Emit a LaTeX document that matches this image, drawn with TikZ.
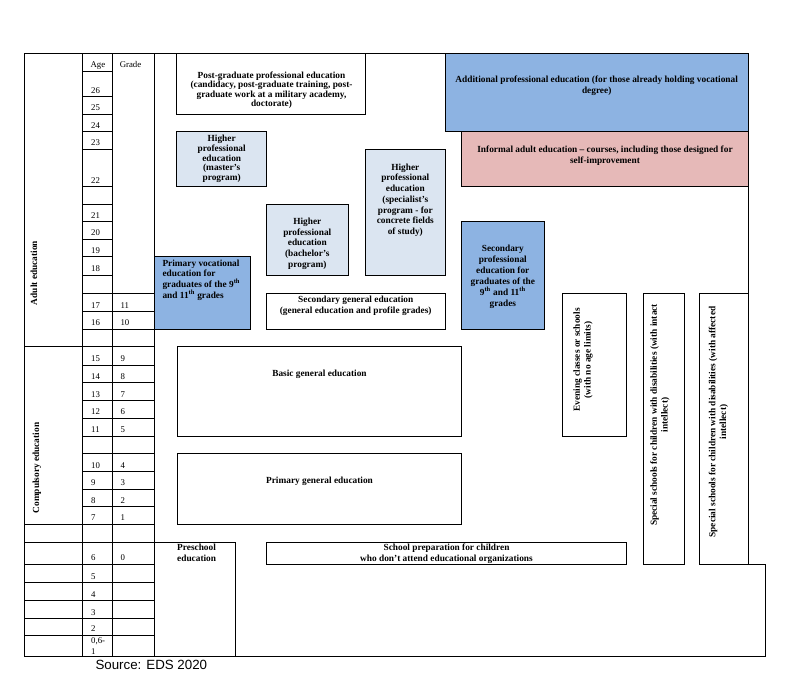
\documentclass[tikz,border=0pt]{standalone}
\usepackage{fontspec}
\setmainfont{Liberation Serif}
\newfontfamily\sourcefont{Liberation Sans}
\definecolor{eduBlue}{HTML}{8DB3E2}
\definecolor{eduPale}{HTML}{DBE5F1}
\definecolor{eduPink}{HTML}{E6B9B8}

\begin{document}
\begin{tikzpicture}[x=1pt,y=-1pt,line width=1pt,
  levelbox/.style={draw=black,line width=1pt},
  boxlabel/.style={anchor=north,align=center,inner sep=0pt,
    font=\bfseries\fontsize{9.33}{10.7}\selectfont},
  cellnum/.style={anchor=base west,inner sep=0pt,font=\fontsize{8.8}{10.9}\selectfont},
  sidelabel/.style={rotate=90,align=center,inner sep=0pt,
    font=\bfseries\fontsize{9.33}{10.7}\selectfont}]
  \fill[white] (0,0) rectangle (792,688);
  \path[use as bounding box] (0,0) rectangle (792,688);

  % Coloured levels go first, the grid lines are drawn over their edges.
  \draw[levelbox,fill=eduBlue] (445,53.3) rectangle (748.3,131.7);
  \draw[levelbox,fill=eduPink] (461.7,131.7) rectangle (748.3,186.7);
  \draw[levelbox] (176.7,53.3) rectangle (365,114);
  \draw[levelbox,fill=eduPale] (176.7,131.7) rectangle (266.7,186.7);
  \draw[levelbox,fill=eduPale] (266,204) rectangle (348.7,275);
  \draw[levelbox,fill=eduPale] (365.3,149.3) rectangle (445.3,275);
  \draw[levelbox,fill=eduBlue] (154.3,256.7) rectangle (250.7,329.3);
  \draw[levelbox,fill=eduBlue] (461.3,221.7) rectangle (544.3,329.3);
  \draw[levelbox] (266,293.3) rectangle (445.3,329.3);
  \draw[levelbox] (177.3,346.7) rectangle (461.7,436);
  \draw[levelbox] (177.3,453.3) rectangle (461.7,524);
  \draw[levelbox] (562.3,293.3) rectangle (626.7,436);
  \draw[levelbox] (643,293.3) rectangle (684.7,564.3);
  \draw[levelbox] (699.3,293.3) rectangle (748.3,564.3);
  \draw[levelbox] (154.3,542.3) rectangle (235.7,656.7);
  \draw[levelbox] (266,542.3) rectangle (626.7,564.3);

  % Age / grade table on the left
  \draw (24,53.3) -- (748.3,53.3) -- (748.3,564.3) -- (765.7,564.3)
    -- (765.7,656.7) -- (24,656.7) -- cycle;
  \foreach \x in {82.7,112.7,154.3} {\draw (\x,53.3) -- (\x,656.7);}
  \foreach \y in {71.7,96.7,114,131.7,149.3,186.7,204,221.7,239.3,256.7,275}
    {\draw (82.7,\y) -- (112.7,\y);}
  \foreach \y in {293.3,311.7,329.3,365,382.7,400.7,418.3,436,453.3,471.7,489.3,506.7}
    {\draw (82.7,\y) -- (154.3,\y);}
  \foreach \y in {346.7,524,542.3,564.3,582.7,600.7,618.7,635.3}
    {\draw (24,\y) -- (154.3,\y);}

  \node[cellnum] (agehead) at (90,67.5) {Age};
  \node[cellnum] (gradehead) at (119.3,67.5) {Grade};
  \foreach \y/\age in {96.7/26,114/25,131.7/24,149.3/23,186.7/22,221.7/21,239.3/20,
    256.7/19,275/18,311.7/17,329.3/16,365/15,382.7/14,400.7/13,418.3/12,436/11,
    471.7/10,489.3/9,506.7/8,524/7,564.3/6,582.7/5,600.7/4,618.7/3,635.3/2}
    {\node[cellnum] (age\age) at (90.7,\y-3.5) {\age};}
  \node[cellnum,anchor=north west,align=left] (ageinfant) at (90.7,637.6) {0,6-\\1};
  \foreach \y/\grade in {311.7/11,329.3/10,365/9,382.7/8,400.7/7,418.3/6,436/5,
    471.7/4,489.3/3,506.7/2,524/1,564.3/0}
    {\node[cellnum] (grade\grade) at (120,\y-3.5) {\grade};}

  \node[sidelabel] (adult) at (34,273) {Adult education};
  \node[sidelabel] (compulsory) at (37,468) {Compulsory education};

  % Level labels
  \node[boxlabel,font=\bfseries\fontsize{9.33}{9.2}\selectfont] (postgrad) at (271.5,71.6)
    {Post-graduate professional education\\(candidacy, post-graduate training, post-\\
     graduate work at a military academy,\\doctorate)};
  \node[boxlabel] (additional) at (596.7,75.9)
    {Additional professional education (for those already holding vocational\\degree)};
  \node[boxlabel] (informal) at (605,145.9)
    {Informal adult education – courses, including those designed for\\self-improvement};
  \node[boxlabel,font=\bfseries\fontsize{9.33}{9.6}\selectfont] (master) at (221.7,134.9)
    {Higher\\professional\\education\\(master’s\\program)};
  \node[boxlabel] (bachelor) at (307.3,217.6)
    {Higher\\professional\\education\\(bachelor’s\\program)};
  \node[boxlabel] (specialist) at (405.3,163.3)
    {Higher\\professional\\education\\(specialist’s\\program - for\\concrete fields\\of study)};
  \node[boxlabel,anchor=north west,align=left] (primvoc) at (162,259.3)
    {Primary vocational\\education for\\graduates of the 9\textsuperscript{th}\\
     and 11\textsuperscript{th} grades};
  \node[boxlabel,font=\bfseries\fontsize{9.33}{10.9}\selectfont] (secprof) at (502.8,244.9)
    {Secondary\\professional\\education for\\graduates of the\\
     9\textsuperscript{th} and 11\textsuperscript{th}\\grades};
  \node[boxlabel,font=\bfseries\fontsize{9.33}{11.3}\selectfont] (secgen) at (355.7,295.3)
    {Secondary general education\\(general education and profile grades)};
  \node[boxlabel] (basic) at (319.5,369.9) {Basic general education};
  \node[boxlabel] (primgen) at (319.5,476.6) {Primary general education};
  \node[boxlabel,anchor=north west,align=left,font=\bfseries\fontsize{9.33}{11.3}\selectfont]
    (preschool) at (176.7,543.3) {Preschool\\education};
  \node[boxlabel,font=\bfseries\fontsize{9.33}{10.4}\selectfont] (schoolprep) at (446.5,543.9)
    {School preparation for children\\who don’t attend educational organizations};

  \node[sidelabel] (evening) at (583,360) {Evening classes or schools\\(with no age limits)};
  \node[sidelabel] (specialintact) at (660,415)
    {Special schools for children with disabilities (with intact\\intellect)};
  \node[sidelabel] (specialaffected) at (718.5,422)
    {Special schools for children with disabilities (with affected\\intellect)};

  \node[anchor=west,inner sep=0pt,font=\sourcefont\fontsize{13.33}{16}\selectfont]
    (source) at (95,665) {Source: EDS 2020};
\end{tikzpicture}
\end{document}
